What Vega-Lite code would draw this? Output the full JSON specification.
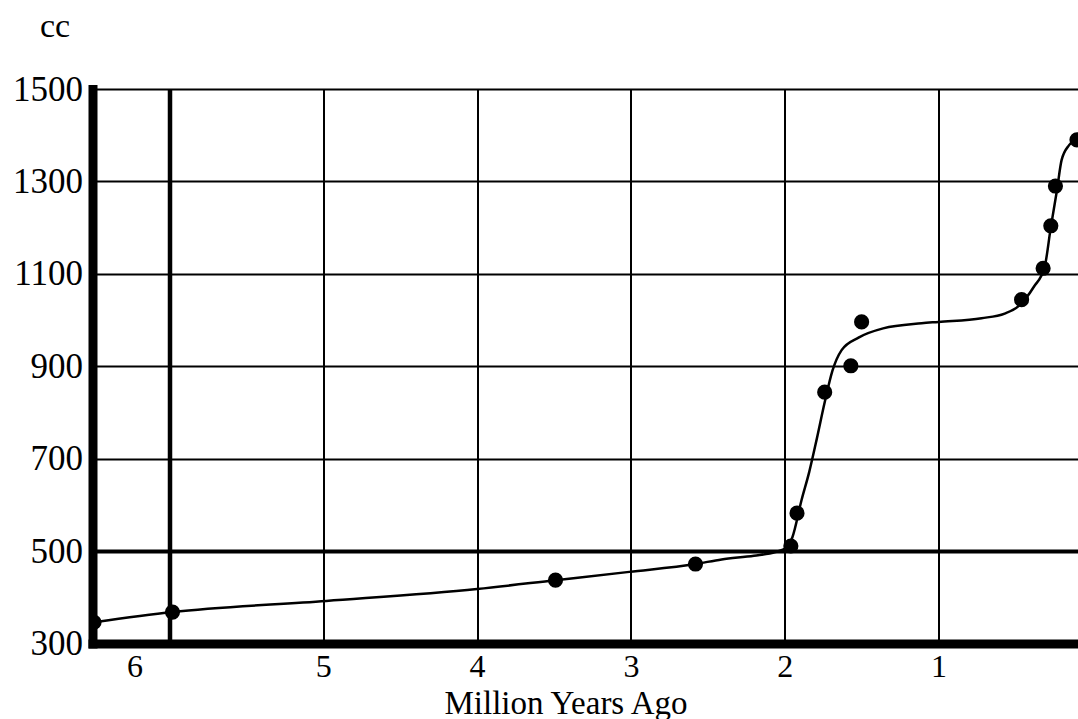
{
  "$schema": "https://vega.github.io/schema/vega-lite/v6.json",
  "autosize": {"type": "none"},
  "width": 986,
  "height": 554.5,
  "padding": {"left": 92.5, "top": 89, "right": 0, "bottom": 75.5},
  "background": "white",
  "config": {"view": {"stroke": null}},
  "datasets": {
    "curve": [
      {"x": 6.49, "cc": 346},
      {"x": 5.98, "cc": 368},
      {"x": 4.98, "cc": 392},
      {"x": 4.0, "cc": 418},
      {"x": 3.49, "cc": 437},
      {"x": 3.01, "cc": 455},
      {"x": 2.58, "cc": 472},
      {"x": 2.41, "cc": 482},
      {"x": 2.2, "cc": 490},
      {"x": 2.06, "cc": 498},
      {"x": 1.99, "cc": 507},
      {"x": 1.95, "cc": 530},
      {"x": 1.89, "cc": 611},
      {"x": 1.84, "cc": 672},
      {"x": 1.79, "cc": 745},
      {"x": 1.74, "cc": 822},
      {"x": 1.69, "cc": 890},
      {"x": 1.63, "cc": 935},
      {"x": 1.52, "cc": 962},
      {"x": 1.36, "cc": 982},
      {"x": 1.11, "cc": 993},
      {"x": 1.0, "cc": 996},
      {"x": 0.72, "cc": 1004},
      {"x": 0.57, "cc": 1014},
      {"x": 0.48, "cc": 1030},
      {"x": 0.38, "cc": 1072},
      {"x": 0.31, "cc": 1115},
      {"x": 0.27, "cc": 1201},
      {"x": 0.23, "cc": 1281},
      {"x": 0.2, "cc": 1346},
      {"x": 0.15, "cc": 1379},
      {"x": 0.09, "cc": 1396},
      {"x": 0.05, "cc": 1402}
    ],
    "points": [
      {"x": 6.49, "cc": 346},
      {"x": 5.98, "cc": 368},
      {"x": 3.49, "cc": 437},
      {"x": 2.58, "cc": 472},
      {"x": 1.96, "cc": 511},
      {"x": 1.92, "cc": 582},
      {"x": 1.74, "cc": 844},
      {"x": 1.57, "cc": 901},
      {"x": 1.5, "cc": 996},
      {"x": 0.46, "cc": 1044},
      {"x": 0.32, "cc": 1112},
      {"x": 0.27, "cc": 1204},
      {"x": 0.24, "cc": 1290},
      {"x": 0.1, "cc": 1390}
    ]
  },
  "encoding": {
    "x": {
      "field": "x",
      "type": "quantitative",
      "scale": {"domain": [0.09, 6.5], "reverse": true, "nice": false, "zero": false},
      "axis": {
        "values": [6, 5, 4, 3, 2, 1],
        "format": "d",
        "grid": true,
        "gridColor": "#000",
        "gridOpacity": 1,
        "gridWidth": {"condition": {"test": "datum.value == 6", "value": 4.5}, "value": 2},
        "ticks": false,
        "domain": true,
        "domainColor": "#000",
        "domainWidth": 9,
        "domainCap": "square",
        "labelFont": "Liberation Serif",
        "labelFontSize": 32,
        "labelColor": "#000",
        "labelPadding": 8,
        "labelFlush": false,
        "labelOverlap": false,
        "labelBound": false,
        "labelOffset": {"condition": {"test": "datum.value == 6", "value": -35}, "value": 0},
        "title": "Million Years Ago",
        "titleFont": "Liberation Serif",
        "titleFontSize": 33,
        "titleFontWeight": "normal",
        "titleColor": "#000",
        "titleAlign": "center",
        "titleBaseline": "alphabetic",
        "titleX": 473,
        "titleY": 69.5
      }
    },
    "y": {
      "field": "cc",
      "type": "quantitative",
      "scale": {"domain": [300, 1500], "nice": false, "zero": false},
      "axis": {
        "values": [300, 500, 700, 900, 1100, 1300, 1500],
        "format": "d",
        "grid": true,
        "gridColor": "#000",
        "gridOpacity": 1,
        "gridWidth": {"condition": {"test": "datum.value == 500", "value": 4}, "value": 2},
        "ticks": false,
        "domain": true,
        "domainColor": "#000",
        "domainWidth": 9,
        "domainCap": "square",
        "labelFont": "Liberation Serif",
        "labelFontSize": 35,
        "labelColor": "#000",
        "labelPadding": 10,
        "labelOverlap": false,
        "labelBound": false,
        "title": "cc",
        "titleFont": "Liberation Serif",
        "titleFontSize": 34,
        "titleFontWeight": "normal",
        "titleColor": "#000",
        "titleAngle": 0,
        "titleAlign": "left",
        "titleBaseline": "alphabetic",
        "titleX": -53,
        "titleY": -53
      }
    }
  },
  "layer": [
    {
      "data": {"name": "curve"},
      "mark": {"type": "line", "color": "#000", "strokeWidth": 2.5, "interpolate": "monotone", "clip": true}
    },
    {
      "data": {"name": "points"},
      "mark": {"type": "point", "shape": "circle", "filled": true, "color": "#000", "opacity": 1, "size": 230, "clip": true}
    }
  ]
}
